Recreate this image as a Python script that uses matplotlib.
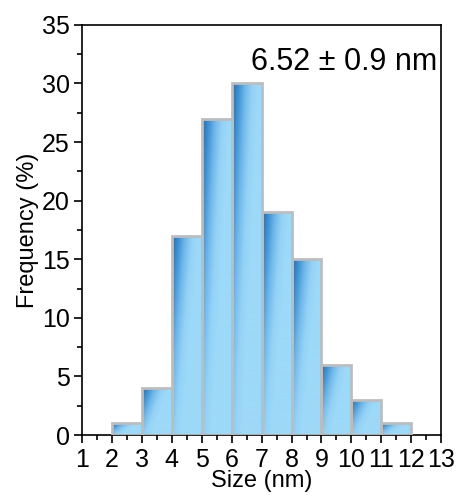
import numpy as np
import matplotlib.pyplot as plt
from matplotlib.colors import LinearSegmentedColormap
from matplotlib.patches import Rectangle

plt.rcParams['font.family'] = ['Liberation Sans', 'DejaVu Sans']

bin_left = [2, 3, 4, 5, 6, 7, 8, 9, 10, 11]
freq = [1, 4, 17, 27, 30, 19, 15, 6, 3, 1]
mean_size = 6.52
sd_size = 0.9

fig = plt.figure(figsize=(4.61, 4.98), dpi=100)
ax = fig.add_axes([0.178, 0.1265, 0.779, 0.8235])

cmap = LinearSegmentedColormap.from_list(
    'blues', ['#1a6db6', '#3f92d2', '#72b9e9', '#94d2f5', '#9dd9f8'])

# diagonal shading: dark at the top-left corner, light to the right and bottom
nu, nv = 60, 120
u = np.linspace(0, 1, nu)[None, :]
v = np.linspace(0, 1, nv)[:, None]
shade = np.clip(1.1 * u + 0.65 * v, 0, 1)

for x0, h in zip(bin_left, freq):
    rect = Rectangle((x0, 0), 1, h, facecolor='none', edgecolor='#bdbdbd',
                     linewidth=2, zorder=3)
    ax.add_patch(rect)
    im = ax.imshow(shade, cmap=cmap, extent=[x0, x0 + 1, 0, h], origin='upper',
                   aspect='auto', interpolation='bilinear', zorder=2)
    im.set_clip_path(rect)

ax.set_xlim(1, 13)
ax.set_ylim(0, 35)
ax.set_xticks(range(1, 14))
ax.set_xticks(np.arange(1.5, 13, 1), minor=True)
ax.set_yticks(range(0, 36, 5))
ax.set_yticks(np.arange(2.5, 35, 5), minor=True)
ax.tick_params(which='major', direction='out', length=6, width=1.2,
               labelsize=18, pad=3, top=False, right=False)
ax.tick_params(which='minor', direction='out', length=3.5, width=1.2,
               top=False, right=False)
for s in ax.spines.values():
    s.set_linewidth(1.2)

ax.set_xlabel('Size (nm)', fontsize=17, labelpad=-1)
ax.set_ylabel('Frequency (%)', fontsize=17, labelpad=2)

ax.text(0.99, 0.91, f'{mean_size} \u00b1 {sd_size} nm', transform=ax.transAxes,
        ha='right', va='center', fontsize=22)

fig.savefig('out.png', dpi=100)
